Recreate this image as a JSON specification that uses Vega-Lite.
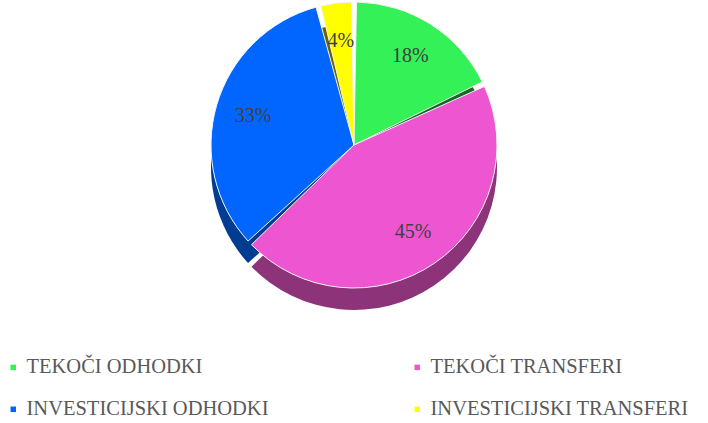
{
  "$schema": "https://vega.github.io/schema/vega-lite/v6.json",
  "width": 708,
  "height": 290,
  "padding": 0,
  "autosize": {"type": "pad"},
  "background": "white",
  "config": {"view": {"stroke": null}},
  "data": {
    "values": [
      {"i": 1, "name": "TEKOČI ODHODKI", "value": 18, "label": "18%"},
      {"i": 2, "name": "TEKOČI TRANSFERI", "value": 45, "label": "45%"},
      {"i": 3, "name": "INVESTICIJSKI ODHODKI", "value": 33, "label": "33%"},
      {"i": 4, "name": "INVESTICIJSKI TRANSFERI", "value": 4, "label": "4%"}
    ]
  },
  "encoding": {
    "theta": {"field": "value", "type": "quantitative", "stack": true},
    "order": {"field": "i", "type": "quantitative"}
  },
  "layer": [
    {
      "mark": {"type": "arc", "outerRadius": 143, "yOffset": 22, "padAngle": 0.035},
      "encoding": {
        "color": {
          "field": "name", "type": "nominal", "legend": null,
          "scale": {
            "domain": ["TEKOČI ODHODKI", "INVESTICIJSKI ODHODKI", "TEKOČI TRANSFERI", "INVESTICIJSKI TRANSFERI"],
            "range": ["#16692A", "#003C8F", "#8C3379", "#6B6500"]
          }
        }
      }
    },
    {
      "mark": {"type": "arc", "outerRadius": 143, "padAngle": 0.035, "stroke": "#f4f4f4", "strokeWidth": 1},
      "encoding": {
        "fill": {
          "field": "name", "type": "nominal",
          "scale": {
            "domain": ["TEKOČI ODHODKI", "INVESTICIJSKI ODHODKI", "TEKOČI TRANSFERI", "INVESTICIJSKI TRANSFERI"],
            "range": ["#33F157", "#0066FF", "#EE55D0", "#FFFF00"]
          },
          "legend": {
            "title": null,
            "orient": "none",
            "legendX": 3,
            "legendY": 357,
            "columns": 2,
            "columnPadding": 138,
            "rowPadding": 21,
            "symbolType": "square",
            "symbolSize": 30,
            "symbolStrokeWidth": 0,
            "labelFont": "Liberation Serif",
            "labelFontSize": 20.5,
            "labelColor": "#595959",
            "labelOffset": 3,
            "labelLimit": 400
          }
        }
      }
    },
    {
      "mark": {"type": "text", "radius": 105, "font": "Liberation Serif", "fontSize": 20, "fill": "#404040"},
      "encoding": {
        "detail": {"field": "name", "type": "nominal"},
        "text": {"field": "label", "type": "nominal"}
      }
    }
  ],
  "resolve": {"scale": {"color": "independent", "fill": "independent"}}
}
